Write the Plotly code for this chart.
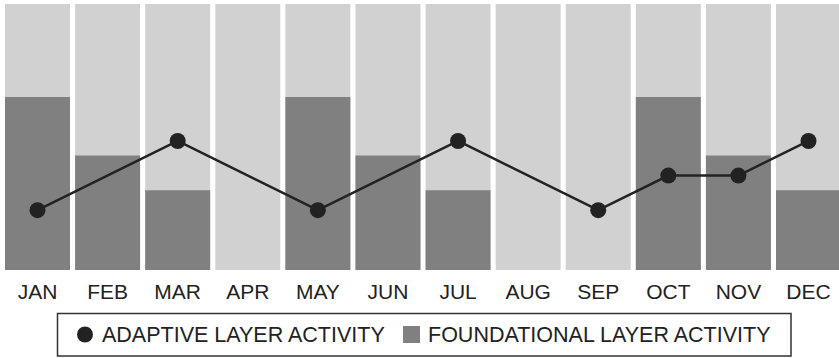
import plotly.graph_objects as go

# Monthly categories
months = ["JAN", "FEB", "MAR", "APR", "MAY", "JUN",
          "JUL", "AUG", "SEP", "OCT", "NOV", "DEC"]

# Full-scale backdrop for each month
capacity = [100] * 12

# Foundational layer activity (dark bars)
foundational = [65, 43, 30, 0, 65, 43, 30, 0, 0, 65, 43, 30]

# Adaptive layer activity (line markers); None = no reading that month
adaptive = [22.5, None, 48.5, None, 22.5, None, 48.5, None, 22.5, 35.5, 35.5, 48.5]

LIGHT = "#d1d1d1"
DARK = "#808080"
INK = "#222222"
FONT = "Liberation Sans, Arial, sans-serif"

W, H = 839, 358
M_T, M_B, M_L, M_R = 4, 88, 0, 0
PLOT_W = W - M_L - M_R
PLOT_H = H - M_T - M_B


def px_x(x):
    return (x - M_L) / PLOT_W


def px_y(y):
    return (H - M_B - y) / PLOT_H


fig = go.Figure()

fig.add_trace(go.Bar(
    x=months, y=capacity, width=0.927,
    marker=dict(color=LIGHT, line=dict(width=0)),
    showlegend=False, hoverinfo="skip",
))

fig.add_trace(go.Bar(
    x=months, y=foundational, width=0.927,
    marker=dict(color=DARK, line=dict(width=0)),
    name="FOUNDATIONAL LAYER ACTIVITY", showlegend=False,
))

fig.add_trace(go.Scatter(
    x=months, y=adaptive, mode="lines+markers", connectgaps=True,
    line=dict(color=INK, width=2.5),
    marker=dict(color=INK, size=16),
    name="ADAPTIVE LAYER ACTIVITY", showlegend=False,
))

# Legend drawn as a framed strip below the axis
shapes = [
    dict(type="rect", xref="paper", yref="paper",
         x0=px_x(57.5), x1=px_x(791), y0=px_y(356), y1=px_y(313.5),
         line=dict(color="#333333", width=1.5), fillcolor="rgba(0,0,0,0)"),
    dict(type="circle", xref="paper", yref="paper",
         x0=px_x(77), x1=px_x(93), y0=px_y(342.5), y1=px_y(326.5),
         line=dict(color=INK, width=0), fillcolor=INK),
    dict(type="rect", xref="paper", yref="paper",
         x0=px_x(403), x1=px_x(420), y0=px_y(343), y1=px_y(326),
         line=dict(color=DARK, width=0), fillcolor=DARK),
]

annotations = [
    dict(text="ADAPTIVE LAYER ACTIVITY", xref="paper", yref="paper",
         x=px_x(100), y=px_y(334.5), xanchor="left", yanchor="middle",
         showarrow=False, font=dict(family=FONT, size=21.5, color=INK)),
    dict(text="FOUNDATIONAL LAYER ACTIVITY", xref="paper", yref="paper",
         x=px_x(426), y=px_y(334.5), xanchor="left", yanchor="middle",
         showarrow=False, font=dict(family=FONT, size=21.5, color=INK)),
]

fig.update_layout(
    template="none",
    width=W, height=H,
    margin=dict(t=M_T, b=M_B, l=M_L, r=M_R, pad=0),
    barmode="overlay",
    plot_bgcolor="white", paper_bgcolor="white",
    showlegend=False,
    shapes=shapes,
    annotations=annotations,
    xaxis=dict(
        type="category", range=[-0.535, 11.435],
        showgrid=False, zeroline=False, showline=False, ticks="",
        automargin=False, ticklabelstandoff=7,
        tickfont=dict(family=FONT, size=21, color=INK),
    ),
    yaxis=dict(
        range=[0, 100], visible=False, automargin=False,
        showgrid=False, zeroline=False,
    ),
)

fig.write_html("out.html")
